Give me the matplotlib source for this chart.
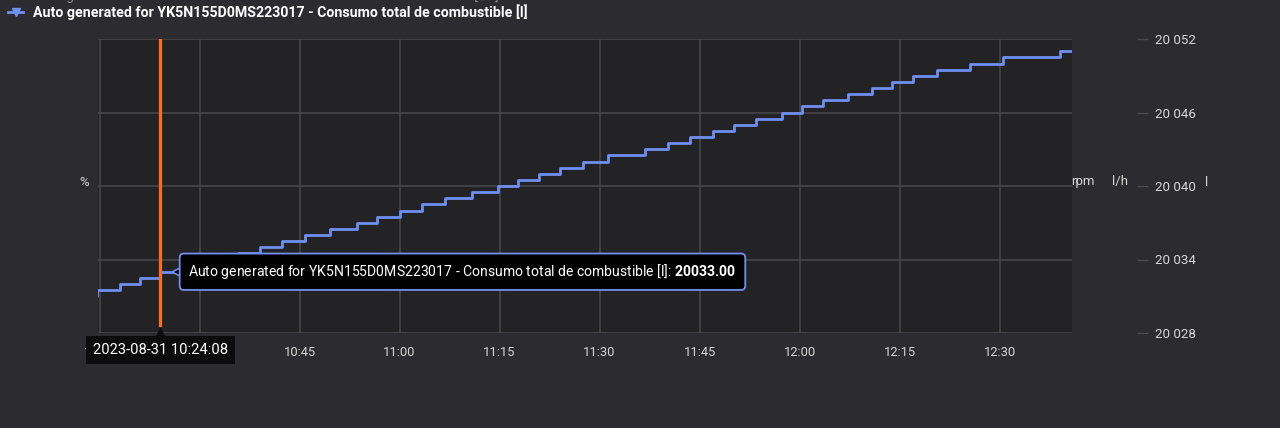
import matplotlib
matplotlib.use("Agg")
import matplotlib.pyplot as plt
import matplotlib.dates as mdates
import matplotlib.transforms as mtransforms
import pandas as pd
from matplotlib.ticker import FuncFormatter

# data (fuel counter, litres, step-post)
day = "2023-08-31"
step_times = ["10:14:30", "10:14:38", "10:18:05", "10:21:05", "10:24:00", "10:27:20",
              "10:32:40", "10:35:45", "10:39:05", "10:42:20", "10:45:50", "10:49:35",
              "10:53:35", "10:56:35", "11:00:05", "11:03:20", "11:06:50", "11:10:50",
              "11:14:45", "11:17:45", "11:20:55", "11:24:05", "11:27:30", "11:31:15",
              "11:36:50", "11:40:15", "11:43:35", "11:47:00", "11:50:10", "11:53:30",
              "11:57:20", "12:00:20", "12:03:30", "12:07:15", "12:10:50", "12:13:50",
              "12:17:00", "12:20:35", "12:25:35", "12:30:30", "12:39:05", "12:40:45"]
fuel_l = [20031.0, 20031.5, 20032.0, 20032.5, 20033.0, 20033.5,
          20034.0, 20034.5, 20035.0, 20035.5, 20036.0, 20036.5,
          20037.0, 20037.5, 20038.0, 20038.5, 20039.0, 20039.5,
          20040.0, 20040.5, 20041.0, 20041.5, 20042.0, 20042.5,
          20043.0, 20043.5, 20044.0, 20044.5, 20045.0, 20045.5,
          20046.0, 20046.5, 20047.0, 20047.5, 20048.0, 20048.5,
          20049.0, 20049.5, 20050.0, 20050.5, 20051.0, 20051.0]

x_range = ["10:14:42", "12:40:52"]
x_ticks = ["10:15", "10:30", "10:45", "11:00", "11:15", "11:30", "11:45",
           "12:00", "12:15", "12:30"]
y_ticks = [20028, 20034, 20040, 20046, 20052]

cursor_time = "10:24:08"
cursor_value = 20033.00
series_name = "Auto generated for YK5N155D0MS223017 - Consumo total de combustible [l]"
prev_series = "Auto generated for YK5N155D0MS223017 - Consumo de combustible [l/h]"
unit_labels = ["rpm", "l/h", "l"]

BG = "#2c2c30"
PLOT_BG = "#232326"
GRID = "#4a4a4e"
TXT = "#d6d6d6"
BLUE = "#6f8ff2"
ORANGE = "#ff6d1a"
BOX = "#0c0c0d"

plt.rcParams["font.family"] = ["Roboto", "DejaVu Sans"]
plt.rcParams["mathtext.fontset"] = "custom"
plt.rcParams["mathtext.rm"] = "Roboto"
plt.rcParams["mathtext.bf"] = "Roboto:bold"

def ts(t):
    return pd.Timestamp(f"{day} {t}")

times = [ts(t) for t in step_times]

fig = plt.figure(figsize=(12.8, 4.28), dpi=100, facecolor=BG)
W, H = 1280, 428
ax = fig.add_axes([97.5 / W, 1 - 333 / H, (1072 - 97.5) / W, (333 - 39) / H])
ax.set_facecolor(PLOT_BG)

ax.plot(times, fuel_l, drawstyle="steps-post", color=BLUE, lw=2.0, zorder=3)

ax.set_xlim(ts(x_range[0]), ts(x_range[1]))
ax.set_ylim(y_ticks[0], y_ticks[-1])
ax.set_xticks([ts(t) for t in x_ticks])
ax.xaxis.set_major_formatter(mdates.DateFormatter("%H:%M"))
ax.set_yticks(y_ticks)
ax.yaxis.set_major_formatter(FuncFormatter(lambda v, p: f"{int(v):,}".replace(",", " ")))
ax.grid(True, color=GRID, lw=1.1)

for s in ax.spines.values():
    s.set_visible(False)
ax.spines["right"].set_position(("outward", 47))
ax.yaxis.tick_right()
ax.tick_params(axis="x", length=0, pad=9, colors=TXT, labelsize=9.3)
ax.tick_params(axis="y", length=8, width=1, color=GRID, pad=5, labelcolor=TXT, labelsize=9.6)

# cursor line
ct = ts(cursor_time)
ax.axvline(ct, ymin=0.027, color=ORANGE, lw=2.3, zorder=4)

# tooltip with a small notch on its left edge
notch = mtransforms.offset_copy(ax.transData, fig=fig, x=18, y=0, units="dots")
ax.plot([ct], [cursor_value], marker="<", ms=9, mfc="black", mec=BLUE, mew=1.2,
        clip_on=False, zorder=8, linestyle="none", transform=notch)
ax.annotate(series_name + ": " + r"$\mathbf{20033.00}$",
            xy=(ct, cursor_value), xytext=(28, 0), textcoords="offset pixels",
            ha="left", va="center", fontsize=10.1, color="white", zorder=9,
            bbox=dict(boxstyle="round,pad=0.62,rounding_size=0.3", fc="black",
                      ec=BLUE, lw=1.3))

# date label under the cursor
ax.annotate(f"{day} {cursor_time}", xy=(ct, y_ticks[0]), xytext=(0, -17),
            textcoords="offset pixels", ha="center", va="center",
            fontsize=10.6, color="white", zorder=10, annotation_clip=False,
            bbox=dict(boxstyle="square,pad=0.5", fc=BOX, ec="none"))
ax.plot([ct], [y_ticks[0]], marker="^", ms=7, color=BOX, clip_on=False,
        zorder=10, linestyle="none")

# axis unit labels
fig.text(84 / W, 1 - 182 / H, "%", color=TXT, fontsize=9.5, ha="center", va="center")
for lab, px in zip(unit_labels, [1083, 1120, 1207]):
    fig.text(px / W, 1 - 182 / H, lab, color=TXT, fontsize=9.5, ha="center", va="center")

# legend at the top (previous entry is cut off by the frame)
fig.text(33 / W, 1 - (-4) / H, prev_series, color="#8a8a8e", fontsize=10.2,
         ha="left", va="center")
fig.lines.append(plt.Line2D([8 / W, 23 / W], [1 - 12 / H, 1 - 12 / H], color=BLUE, lw=2,
                            transform=fig.transFigure))
fig.lines.append(plt.Line2D([15.5 / W], [1 - 12 / H], color=BLUE, marker="v", ms=6,
                            transform=fig.transFigure))
fig.text(33 / W, 1 - 12 / H, series_name, color="white", fontsize=10.2,
         fontweight="bold", ha="left", va="center")

fig.savefig("out.png", dpi=100, facecolor=BG)
